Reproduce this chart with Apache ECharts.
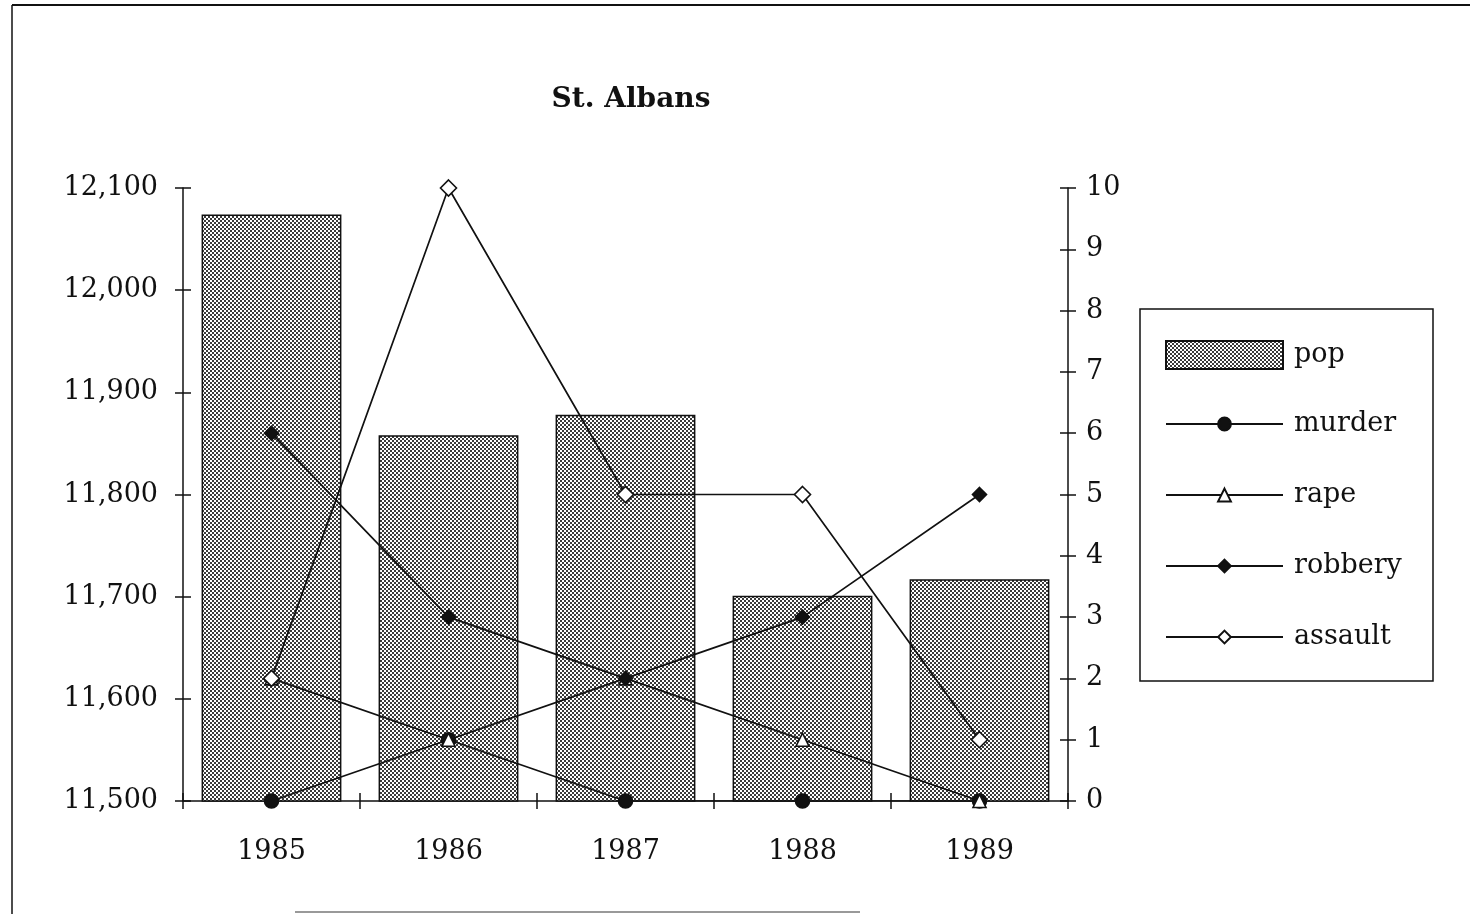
<!DOCTYPE html>
<html>
<head>
<meta charset="utf-8">
<title>St. Albans</title>
<script src="https://cdn.jsdelivr.net/npm/echarts@6/dist/echarts.min.js"></script>
<style>
  html, body { margin: 0; padding: 0; background: #fff; }
  #chart { width: 1470px; height: 914px; }
</style>
</head>
<body>
<div id="chart"></div>
<script>
// Yearly figures for St. Albans
const years = ['1985', '1986', '1987', '1988', '1989'];
const pop = [12074, 11858, 11878, 11701, 11717];
const murder = [0, 1, 0, 0, 0];
const rape = [2, 1, 2, 1, 0];
const robbery = [6, 3, 2, 3, 5];
const assault = [2, 10, 5, 5, 1];

const FONT = 'DejaVu Serif';
const INK = '#111';
const FS = 27;

// fine checkered halftone used to fill the population bars
function checkerTile() {
  const c = document.createElement('canvas');
  c.width = 4; c.height = 4;
  const g = c.getContext('2d');
  g.fillStyle = '#ffffff';
  g.fillRect(0, 0, 4, 4);
  g.fillStyle = '#3a3a3a';
  g.fillRect(0, 0, 2, 2);
  g.fillRect(2, 2, 2, 2);
  return c;
}
const barFill = { image: checkerTile(), repeat: 'repeat' };

const withCommas = v => String(v).replace(/\B(?=(\d{3})+(?!\d))/g, ',');

const tickLabel = { fontFamily: FONT, fontSize: FS, color: INK };
const axisLine = { show: true, lineStyle: { color: INK, width: 1.5 } };
const legendText = { fontFamily: FONT, fontSize: FS, color: INK, lineHeight: 28, padding: [0, 0, 0, 6] };

function lineSeries(name, data, symbol, size, filled) {
  return {
    name, type: 'line', data,
    xAxisIndex: 0, yAxisIndex: 1,
    symbol, symbolSize: size,
    showAllSymbol: true,
    lineStyle: { color: INK, width: 1.7 },
    itemStyle: { color: filled ? INK : '#fff', borderColor: INK, borderWidth: 1.6 },
    z: 3
  };
}

const chart = echarts.init(document.getElementById('chart'), null, { renderer: 'canvas' });
chart.setOption({
  backgroundColor: '#fff',
  animation: false,
  title: {
    text: 'St. Albans',
    left: 626, top: 81, textAlign: 'center',
    textStyle: { fontFamily: FONT, fontSize: 28, fontWeight: 'bold', color: INK }
  },
  grid: { left: 183, right: 402, top: 188, bottom: 113, containLabel: false },
  xAxis: [
    {
      type: 'category', data: years, position: 'bottom',
      axisLine,
      axisTick: { show: true, length: 8, lineStyle: { color: INK, width: 1.5 } },
      axisLabel: { ...tickLabel, margin: 37 }
    },
    {
      type: 'category', data: years, position: 'bottom', gridIndex: 0,
      axisLine: { show: false },
      axisTick: { show: true, inside: true, length: 8, lineStyle: { color: INK, width: 1.5 } },
      axisLabel: { show: false }
    }
  ],
  yAxis: [
    {
      type: 'value', position: 'left', min: 11500, max: 12100, interval: 100,
      axisLine,
      axisTick: { show: true, length: 8, lineStyle: { color: INK, width: 1.5 } },
      axisLabel: { ...tickLabel, margin: 25, formatter: withCommas },
      splitLine: { show: false }
    },
    {
      type: 'value', position: 'right', min: 0, max: 10, interval: 1,
      axisLine,
      axisTick: { show: true, length: 8, lineStyle: { color: INK, width: 1.5 } },
      axisLabel: { ...tickLabel, margin: 18 },
      splitLine: { show: false }
    },
    {
      type: 'value', position: 'left', min: 11500, max: 12100, interval: 100,
      axisLine: { show: false },
      axisTick: { show: true, inside: true, length: 8, lineStyle: { color: INK, width: 1.5 } },
      axisLabel: { show: false },
      splitLine: { show: false }
    },
    {
      type: 'value', position: 'right', min: 0, max: 10, interval: 1,
      axisLine: { show: false },
      axisTick: { show: true, inside: true, length: 8, lineStyle: { color: INK, width: 1.5 } },
      axisLabel: { show: false },
      splitLine: { show: false }
    }
  ],
  legend: [
    {
      data: [{ name: 'pop', icon: 'rect' }],
      orient: 'vertical', left: 1160, top: 335,
      itemWidth: 117, itemHeight: 28,
      textStyle: legendText
    },
    {
      data: ['murder', 'rape', 'robbery', 'assault'],
      orient: 'vertical', left: 1160, top: 405,
      itemWidth: 117, itemHeight: 16, itemGap: 43,
      textStyle: legendText
    }
  ],
  graphic: [
    // legend frame
    { type: 'rect', shape: { x: 1140, y: 309, width: 293, height: 372 },
      style: { fill: null, stroke: INK, lineWidth: 1.5 }, z: -1 },
    // outer page frame
    { type: 'line', shape: { x1: 12, y1: 5, x2: 1470, y2: 5 }, style: { stroke: INK, lineWidth: 2 } },
    { type: 'line', shape: { x1: 12, y1: 5, x2: 12, y2: 914 }, style: { stroke: INK, lineWidth: 1.5 } },
    { type: 'line', shape: { x1: 295, y1: 912, x2: 860, y2: 912 }, style: { stroke: '#999', lineWidth: 2 } }
  ],
  series: [
    {
      name: 'pop', type: 'bar', data: pop,
      xAxisIndex: 0, yAxisIndex: 0,
      barCategoryGap: '21%',
      itemStyle: { color: barFill, borderColor: INK, borderWidth: 1.5 },
      z: 2
    },
    lineSeries('murder', murder, 'circle', 14, true),
    lineSeries('rape', rape, 'triangle', 13, false),
    lineSeries('robbery', robbery, 'diamond', 14, true),
    lineSeries('assault', assault, 'diamond', 16, false)
  ]
});
</script>
</body>
</html>
